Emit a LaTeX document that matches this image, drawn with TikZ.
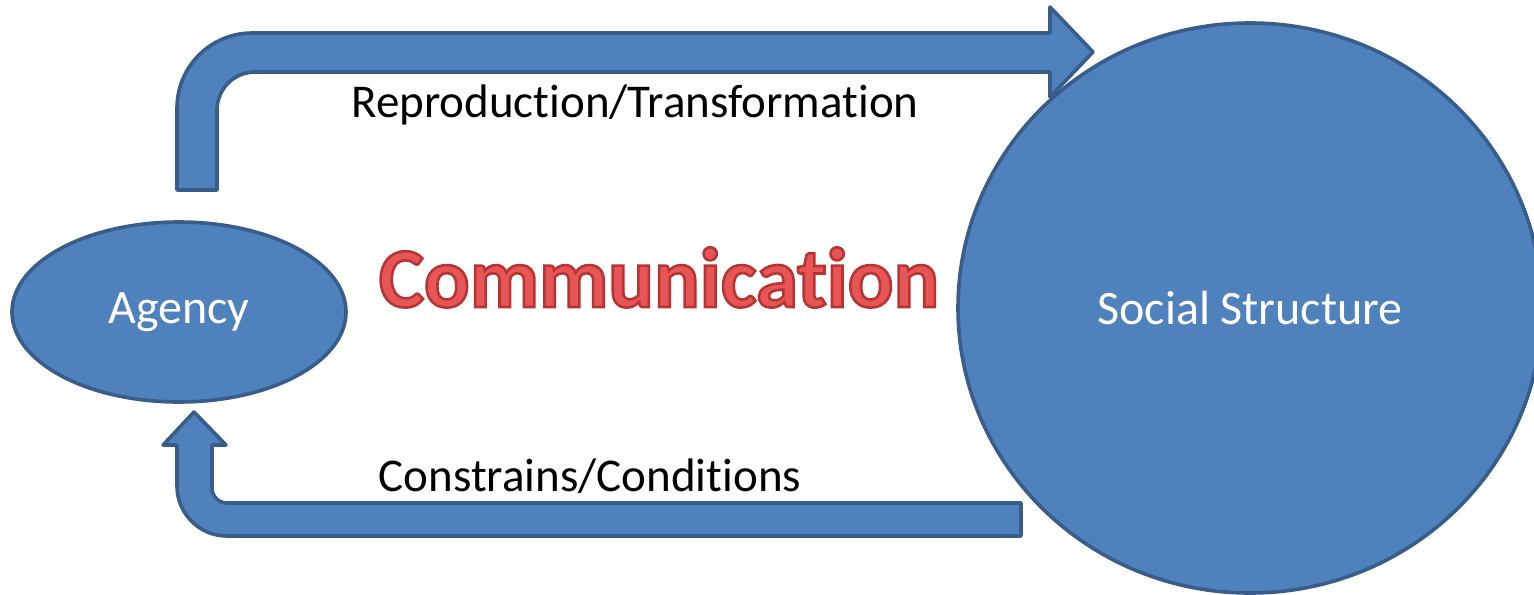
\documentclass[tikz,border=0pt]{standalone}
\usepackage{fontspec}
\setmainfont[Ligatures={NoCommon}]{Carlito}
\newfontfamily\commface[FakeBold=3,Ligatures={NoCommon}]{Carlito Bold}
\usetikzlibrary{shapes.geometric}
\definecolor{boxfill}{HTML}{4F81BD}
\definecolor{boxline}{HTML}{385D8A}
\definecolor{commmid}{RGB}{230,86,86}
\begin{document}
\begin{tikzpicture}[x=0.5pt,y=-0.5pt,
  blockshape/.style={fill=boxfill,draw=boxline,line width=1.8pt,line join=round},
  lbl/.style={font=\fontsize{23.5}{28}\selectfont,inner sep=0pt,anchor=base},
  commfont/.style={font=\commface\fontsize{42.6}{48}\selectfont,inner sep=0pt,anchor=base}]
\useasboundingbox (0,0) rectangle (1534,594);
\clip (0,0) rectangle (1534,594);
% nodes
\node[ellipse,blockshape,minimum width=292pt,minimum height=285pt,inner sep=0pt,
      text=white,font=\fontsize{24}{28}\selectfont] (social) at (1250,308) {Social Structure};
\node[ellipse,blockshape,minimum width=167pt,minimum height=90pt,inner sep=0pt,
      text=white,font=\fontsize{24}{28}\selectfont] (agency) at (179,312) {Agency};
% top bent arrow: Agency -> Social Structure
\draw[blockshape] (177,190) -- (177,108)
  .. controls (177,66.6) and (210.6,33) .. (252,33)
  -- (1050,33) -- (1050,7) -- (1093,52) -- (1050,97) -- (1050,72) -- (255,72)
  .. controls (234,72) and (217,89) .. (217,110)
  -- (217,190) -- cycle;
% bottom bent arrow: Social Structure -> Agency
\draw[blockshape] (1021,503) -- (227,503)
  .. controls (218.7,503) and (212,496.3) .. (212,488)
  -- (212,445) -- (226,445) -- (194,412) -- (163,445) -- (177,445) -- (177,486)
  .. controls (177,513.6) and (199.4,536) .. (227,536)
  -- (1021,536) -- cycle;
% labels
\node[lbl] (reprod) at (635,117) {Reproduction/Transformation};
\node[lbl] (constr) at (590,491) {Constrains/Conditions};
\node[commfont,text=commmid] (comm) at (659,307)
  {\special{pdf:literal direct 0.73 0.2 0.2 RG}Communication};
\end{tikzpicture}
\end{document}
